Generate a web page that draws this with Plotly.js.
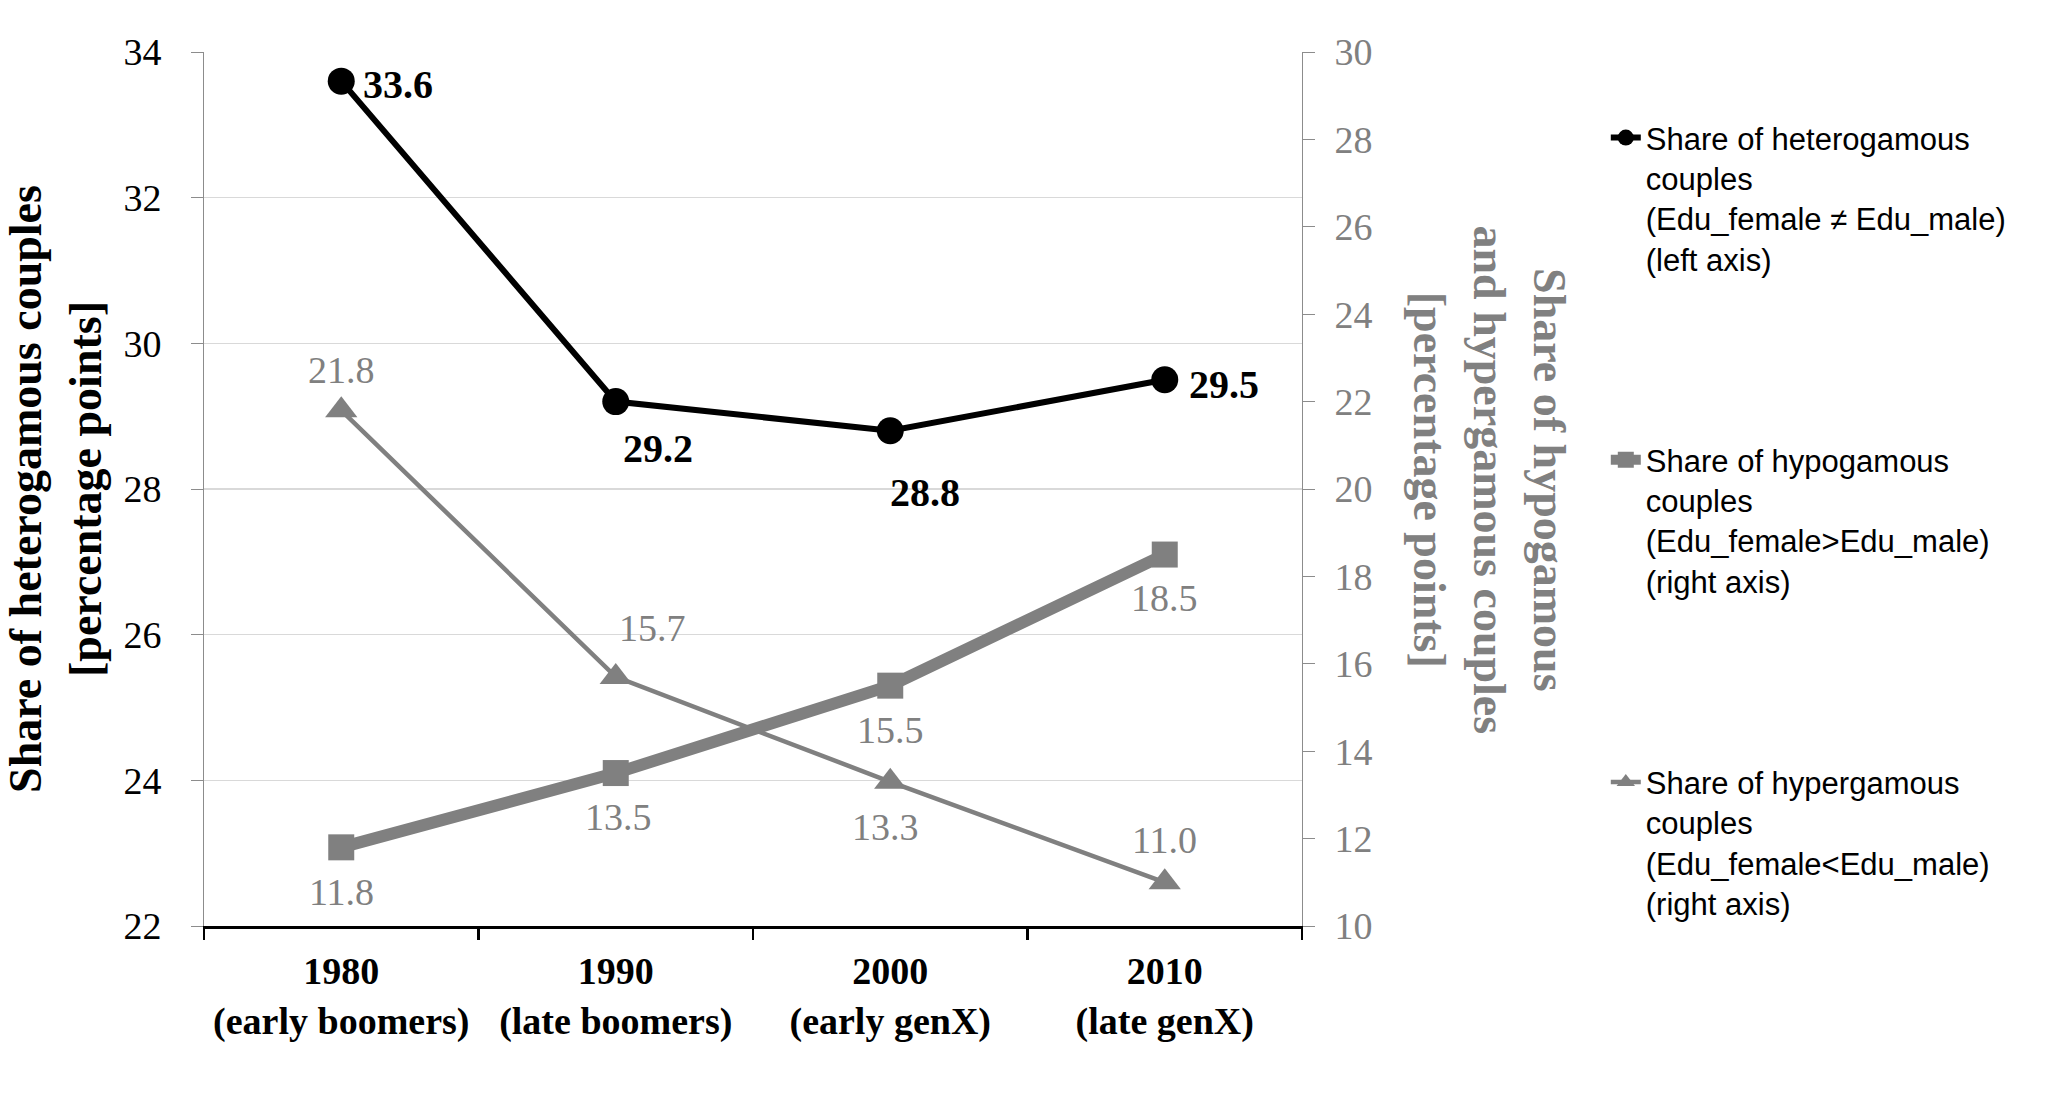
<!DOCTYPE html>
<html>
<head>
<meta charset="utf-8">
<script src="https://cdn.plot.ly/plotly-3.0.1.min.js"></script>
<style>body{margin:0;background:#fff}</style>
</head>
<body>
<div id="chart" style="width:2072px;height:1109px"></div>
<script>
// data
const YEARS = ["1980", "1990", "2000", "2010"];
const COHORTS = ["early boomers", "late boomers", "early genX", "late genX"];
const HETERO = [33.6, 29.2, 28.8, 29.5];   // left axis
const HYPO = [11.8, 13.5, 15.5, 18.5];     // right axis
const HYPER = [21.8, 15.7, 13.3, 11.0];    // right axis

const SERIF = "Liberation Serif, Times New Roman, serif";
const SANS = "Liberation Sans, Arial, sans-serif";
const GREY = "#808080";

const cats = YEARS.map((y, i) => `${y}<br>(${COHORTS[i]})`);

// label placement per point: [xanchor, xshift, yshift]
const heteroPos = [["left", 20, -3], ["center", 42, -47], ["center", 35, -62], ["left", 22, -5]];
const hypoPos = [["center", 0, -45], ["center", 3, -44], ["center", 0, -44], ["center", 0, -43]];
const hyperPos = [["center", 0, 40], ["center", 37, 49], ["center", -5, -45], ["center", 0, 42]];

const labels = (vals, pos, yref, font) =>
  vals.map((v, i) => ({
    x: cats[i], y: v, xref: "x", yref: yref,
    text: v.toFixed(1), showarrow: false,
    xanchor: pos[i][0], yanchor: "middle", xshift: pos[i][1], yshift: pos[i][2],
    font: font
  }));

const traces = [
  {
    x: cats, y: HETERO, yaxis: "y", type: "scatter", mode: "lines+markers",
    name: "Share of heterogamous<br>couples<br>(Edu_female \u2260 Edu_male)<br>(left axis)",
    legendgroup: "a",
    line: {color: "#000", width: 6},
    marker: {symbol: "circle", size: 27, color: "#000"}
  },
  {
    x: cats, y: HYPO, yaxis: "y2", type: "scatter", mode: "lines+markers",
    name: "Share of hypogamous<br>couples<br>(Edu_female>Edu_male)<br>(right axis)",
    legendgroup: "b",
    line: {color: GREY, width: 12},
    marker: {symbol: "square", size: 26, color: GREY}
  },
  {
    x: cats, y: HYPER, yaxis: "y2", type: "scatter", mode: "lines+markers",
    name: "Share of hypergamous<br>couples<br>(Edu_female<Edu_male)<br>(right axis)",
    legendgroup: "c",
    line: {color: GREY, width: 4.5},
    marker: {symbol: "triangle-up", size: 28, color: GREY}
  }
];

const layout = {
  width: 2072, height: 1109,
  margin: {l: 204, r: 770, t: 52, b: 183},
  paper_bgcolor: "#fff", plot_bgcolor: "#fff",
  font: {family: SERIF, color: "#000"},
  showlegend: true,
  xaxis: {
    type: "category", range: [-0.5, 3.5],
    showgrid: false, zeroline: false,
    showline: true, linecolor: "#000", linewidth: 2.5,
    ticks: "outside", tickson: "boundaries", ticklen: 11, tickwidth: 2.5, tickcolor: "#000",
    tickfont: {family: SERIF, size: 38, color: "#000", weight: "bold"},
    ticklabelstandoff: 10
  },
  yaxis: {
    range: [22, 34], dtick: 2, tick0: 22,
    showgrid: true, gridcolor: "#d9d9d9", gridwidth: 1.5, zeroline: false,
    showline: true, linecolor: "#8c8c8c", linewidth: 1,
    ticks: "outside", ticklen: 12, tickcolor: "#8c8c8c", tickwidth: 1,
    tickfont: {family: SERIF, size: 38, color: "#000"},
    ticklabelstandoff: 22,
    title: {
      text: "Share of heterogamous couples<br>[percentage points]",
      font: {family: SERIF, size: 46, color: "#000", weight: "bold"},
      standoff: 20
    }
  },
  yaxis2: {
    overlaying: "y", side: "right",
    range: [10, 30], dtick: 2, tick0: 10,
    showgrid: false, zeroline: false,
    showline: true, linecolor: "#8c8c8c", linewidth: 1,
    ticks: "outside", ticklen: 12, tickcolor: "#8c8c8c", tickwidth: 1,
    tickfont: {family: SERIF, size: 38, color: GREY},
    ticklabelstandoff: 12
  },
  legend: {
    xref: "container", yref: "container",
    x: 0.775, y: 0.9, xanchor: "left", yanchor: "top",
    font: {family: SANS, size: 31, color: "#000"},
    traceorder: "grouped", tracegroupgap: 158, valign: "top",
    maxheight: 1000,
    bgcolor: "rgba(0,0,0,0)"
  },
  annotations: [
    ...labels(HETERO, heteroPos, "y", {family: SERIF, size: 40, color: "#000", weight: "bold"}),
    ...labels(HYPO, hypoPos, "y2", {family: SERIF, size: 38, color: GREY}),
    ...labels(HYPER, hyperPos, "y2", {family: SERIF, size: 38, color: GREY}),
    {
      xref: "paper", yref: "paper", x: 1.171, y: 0.51,
      xanchor: "center", yanchor: "middle",
      text: "Share of hypogamous<br>and hypergamous couples<br>[percentage points]",
      textangle: 90, showarrow: false,
      font: {family: SERIF, size: 46, color: GREY, weight: "bold"}
    }
  ]
};

Plotly.newPlot("chart", traces, layout, {displayModeBar: false, staticPlot: true});
</script>
</body>
</html>
